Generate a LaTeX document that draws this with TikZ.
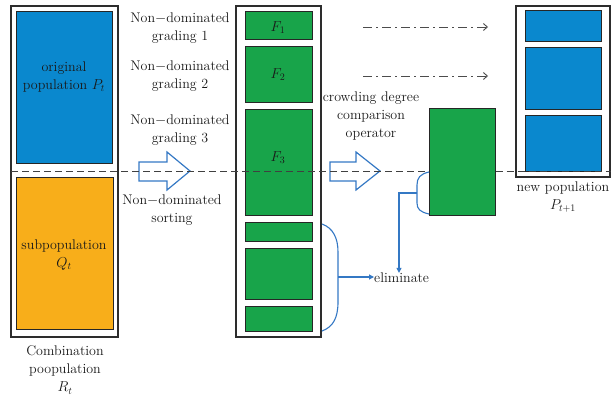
\documentclass[tikz,border=0pt]{standalone}
\usetikzlibrary{arrows.meta,calc,fit}
\definecolor{popblue}{RGB}{10,136,206}
\definecolor{suborange}{RGB}{248,174,26}
\definecolor{frontgreen}{RGB}{24,164,74}
\definecolor{flowblue}{RGB}{52,120,196}
\definecolor{framegray}{RGB}{45,45,45}
\begin{document}
\begin{tikzpicture}[x=1pt,y=-1pt,
  frame/.style={draw=framegray,line width=1.1pt,inner sep=0pt},
  block/.style={draw=black!85,line width=1pt,inner sep=0pt},
  lbl/.style={font=\fontsize{14}{18}\selectfont,align=center,inner sep=0pt,text=black!90},
  hollow/.style={draw=flowblue,line width=1.2pt,line join=miter},
  flow/.style={draw=flowblue,line width=1.1pt},
  flowtip/.style={-{Triangle[length=5pt,width=5pt]}},
  guide/.style={draw=black!70,line width=0.9pt,dash pattern=on 9pt off 4pt on 2pt off 4pt,-{Straight Barb[length=4pt,width=7pt]}},
  split/.style={draw=black!75,line width=0.9pt,dash pattern=on 7pt off 4pt}]
\useasboundingbox (0,0) rectangle (611,396);

% combination population R_t
\node[frame,fit={(11,6)(118,337)}] (R) {};
\node[block,fill=popblue,fit={(16,12)(112,163)}] (P) {};
\node[block,fill=suborange,fit={(16,177)(113,329)}] (Q) {};
\node[lbl] at (64,77) {original\\population $P_t$};
\node[lbl] at (64,255) {subpopulation\\$Q_t$};
\node[lbl] at (65,370) {Combination\\poopulation\\$R_t$};

% grading labels
\node[lbl] at (180,28) {Non$-$dominated\\grading 1};
\node[lbl] at (180,76) {Non$-$dominated\\grading 2};
\node[lbl] at (180,130) {Non$-$dominated\\grading 3};
\node[lbl] at (172,210) {Non$-$dominated\\sorting};

% non-dominated fronts
\node[frame,fit={(236,6)(321,337)}] (S) {};
\node[block,fill=frontgreen,fit={(245,12)(312,40)}] (F1) {};
\node[block,fill=frontgreen,fit={(245,47)(312,103)}] (F2) {};
\node[block,fill=frontgreen,fit={(245,110)(312,215)}] (F3) {};
\node[block,fill=frontgreen,fit={(245,222)(312,241)}] (F4) {};
\node[block,fill=frontgreen,fit={(245,248)(312,299)}] (F5) {};
\node[block,fill=frontgreen,fit={(245,306)(312,331)}] (F6) {};
\node[lbl] at (278,28) {$F_1$};
\node[lbl] at (278,75) {$F_2$};
\node[lbl] at (278,158) {$F_3$};

% hollow process arrows
\draw[hollow] (139,162) -- (167,162) -- (167,152) -- (190,171) -- (167,190) -- (167,181) -- (139,181) -- cycle;
\draw[hollow] (330,162) -- (356,162) -- (356,152) -- (380,171) -- (356,190) -- (356,181) -- (330,181) -- cycle;

% crowding comparison
\node[lbl] at (371,116) {crowding degree\\comparison\\operator};
\node[block,fill=frontgreen,fit={(429,109)(495,215)}] (C) {};

% fronts copied straight over
\coordinate (g1s) at (363,27); \coordinate (g1e) at (488,27);
\coordinate (g2s) at (363,76); \coordinate (g2e) at (488,76);
\draw[guide] (g1s) -- (g1e);
\draw[guide] (g2s) -- (g2e);

% new population P_{t+1}
\node[frame,fit={(516,6)(610,177)}] (N) {};
\node[block,fill=popblue,fit={(525,11)(601,42)}] (N1) {};
\node[block,fill=popblue,fit={(525,48)(601,110)}] (N2) {};
\node[block,fill=popblue,fit={(525,116)(601,171)}] (N3) {};
\node[lbl] at (563,188) {new population};
\node[lbl] at (563,206) {$P_{t+1}$};

% split line between P_t and Q_t sizes
\draw[split] (11,171) -- (C.west |- 0,171);
\draw[split] (C.east |- 0,171) -- (611,171);

% eliminated fronts
\node[lbl,anchor=west] (elim) at (374,278) {eliminate};
\coordinate (b1) at (338,277);
\draw[flow] (322,224) .. controls (333,228) and (338,238) .. (338,252) -- (338,302) .. controls (338,318) and (333,327) .. (322,331);
\draw[flow,flowtip] (b1) -- (elim.west |- b1);

\coordinate (b2) at (417,193);
\coordinate (b3) at (399,193);
\draw[flow] (429,172) .. controls (420,174) and (417,178) .. (417,185) -- (417,203) .. controls (417,209) and (420,212) .. (429,214);
\draw[flow,flowtip] (b2) -- (b3) -- (b3 |- elim.north);
\end{tikzpicture}
\end{document}
